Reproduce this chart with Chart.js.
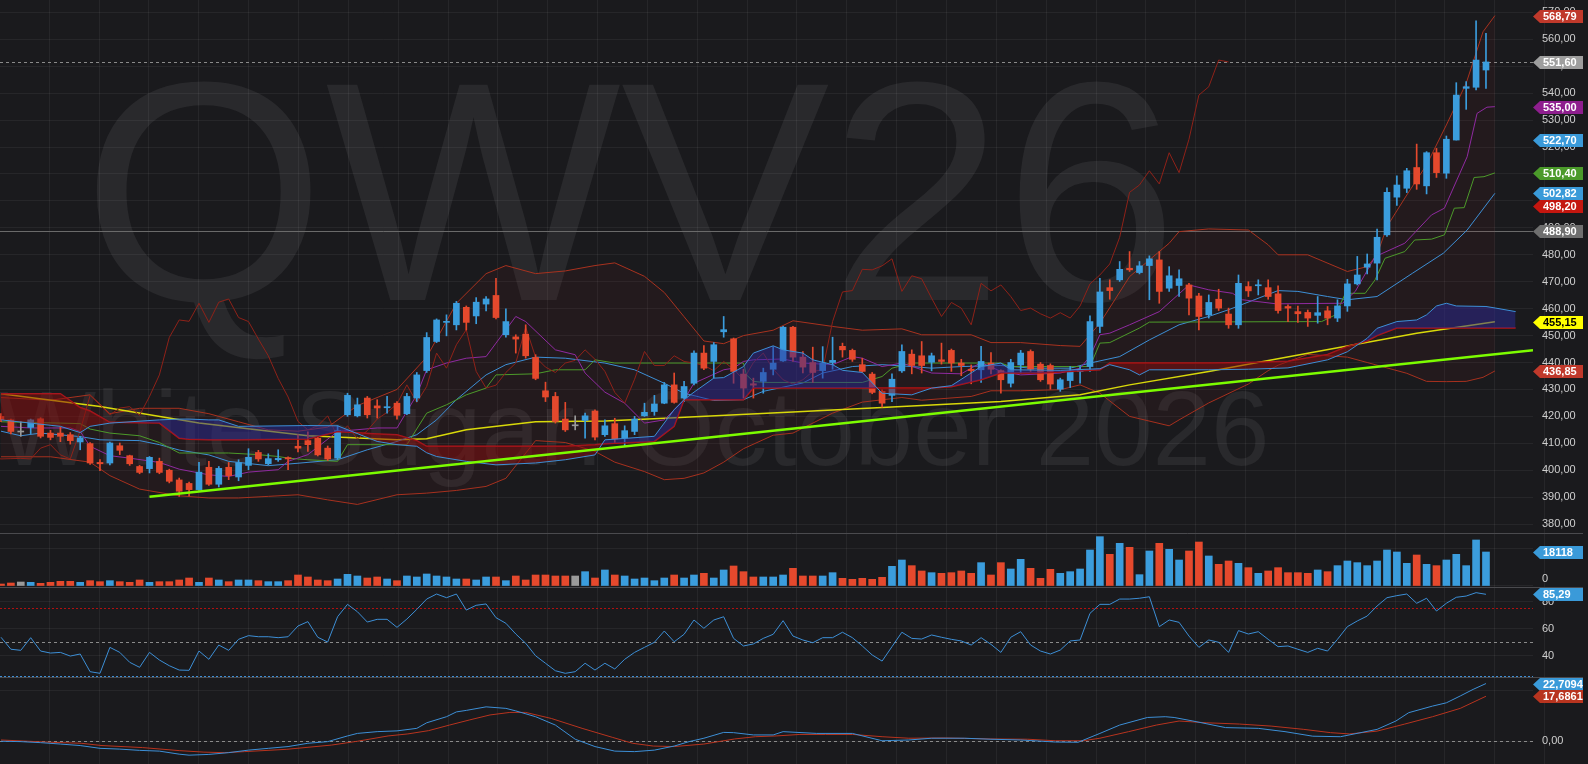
<!DOCTYPE html>
<html>
<head>
<meta charset="utf-8">
<title>QWV26 - White Sugar: October 2026</title>
<script src="https://cdn.jsdelivr.net/npm/chart.js@4.4.1/dist/chart.umd.min.js"></script>
<style>
  html, body { margin: 0; padding: 0; background: #1a1a1d; overflow: hidden; }
  #wrap { position: relative; width: 1588px; height: 764px; }
  canvas { position: absolute; left: 0; }
</style>
</head>
<body>
<div id="wrap">
  <canvas id="price" width="1588" height="533" style="top:0px"></canvas>
  <canvas id="volume" width="1588" height="54" style="top:533px"></canvas>
  <canvas id="rsi" width="1588" height="90" style="top:587px"></canvas>
  <canvas id="macd" width="1588" height="87" style="top:677px"></canvas>
</div>
<script>
// candles, one per session (index 0..150)
var opens = [
  420.0,418.7,414.2,415.9,419.1,413.8,413.8,413.2,410.5,409.9,
  402.9,402.7,409.1,405.4,401.4,400.6,403.3,400.0,396.4,395.1,
  392.8,401.1,394.8,401.1,397.5,401.8,406.6,402.4,403.9,404.7,
  408.9,411.0,411.9,408.2,404.5,420.6,420.2,426.8,423.9,423.2,
  424.9,421.0,426.8,437.0,447.8,454.9,454.0,460.5,457.3,461.7,
  464.9,450.3,449.5,450.5,441.9,429.5,427.4,419.0,416.5,418.5,
  422.0,413.2,417.3,411.9,414.4,420.2,421.8,424.9,431.7,426.8,
  432.3,443.5,440.4,451.4,448.8,435.7,432.1,433.0,437.5,440.6,
  453.1,442.0,440.0,437.0,440.0,446.0,444.5,439.2,435.7,429.3,
  427.8,436.9,443.1,442.5,440.1,441.0,444.5,439.8,437.5,437.3,
  439.8,437.0,432.3,439.1,444.1,439.4,438.9,430.1,433.3,436.7,
  438.5,453.4,467.8,470.7,475.0,473.4,476.0,478.1,467.6,468.6,
  468.8,464.7,457.7,463.5,458.0,454.0,468.2,468.5,467.8,465.5,
  460.8,458.9,458.6,457.5,459.2,456.5,461.0,469.2,475.4,476.9,
  487.4,501.4,504.7,512.4,505.6,517.9,510.3,522.6,541.8,542.2,
  548.6
];
var highs = [
  421.0,419.0,418.1,419.0,419.5,414.8,416.0,414.0,412.6,410.3,
  404.0,410.5,410.1,405.6,401.8,405.1,404.5,400.4,397.1,395.6,
  402.9,403.3,401.4,402.9,403.9,408.0,407.4,406.1,407.6,405.0,
  413.2,414.3,412.5,409.0,416.5,428.6,426.8,427.4,426.2,427.4,
  425.5,428.6,436.3,451.1,456.2,457.7,462.7,461.0,464.1,464.5,
  471.3,459.9,450.3,454.0,442.9,432.7,428.9,425.2,420.2,421.2,
  422.4,418.7,419.3,416.5,420.0,424.9,427.8,432.6,436.1,433.0,
  444.3,446.3,447.4,457.1,449.1,437.5,434.2,437.9,445.9,453.4,
  453.4,444.1,445.7,445.9,449.4,447.2,445.0,441.6,436.3,429.9,
  435.8,446.6,444.7,447.8,443.5,447.2,445.0,441.2,439.1,446.0,
  443.7,437.3,441.2,444.5,444.7,440.0,439.5,434.2,438.5,438.5,
  457.3,471.3,470.7,477.5,481.2,477.5,479.6,481.2,475.6,474.4,
  469.4,465.7,465.1,467.2,460.2,472.5,470.0,470.7,470.7,468.5,
  461.4,461.0,459.5,464.5,460.8,463.3,470.9,479.4,480.3,489.5,
  504.9,509.3,512.1,521.1,518.3,519.5,524.1,543.9,544.3,566.9,
  562.2
];
var lows = [
  418.0,413.5,412.6,413.6,412.0,411.3,410.6,409.7,407.6,402.2,
  399.8,402.0,405.8,401.8,398.7,399.0,398.7,395.3,390.3,390.5,
  392.5,394.4,393.8,396.5,396.1,400.2,403.3,402.0,403.3,400.2,
  406.8,407.0,405.3,403.6,404.0,420.0,419.8,419.4,419.4,421.2,
  419.0,420.6,425.5,436.3,447.4,449.9,452.1,452.1,454.4,459.2,
  456.2,449.4,443.5,441.6,433.6,425.5,417.5,414.4,415.0,411.9,
  411.3,412.6,410.3,408.8,413.2,420.0,420.4,424.7,424.9,425.5,
  431.7,437.3,434.2,449.4,432.3,426.8,426.8,428.6,435.4,440.4,
  440.4,436.1,432.6,434.2,437.5,442.0,440.4,436.3,428.4,423.4,
  425.5,436.3,435.8,436.1,436.9,439.4,436.7,435.1,432.1,432.6,
  435.8,428.6,430.9,436.1,436.7,433.0,430.1,429.3,430.7,432.3,
  436.7,451.1,463.5,470.1,473.8,472.9,463.3,462.0,466.4,464.5,
  457.7,452.1,456.5,459.3,452.7,452.7,464.5,465.1,463.5,458.3,
  455.2,454.9,453.4,454.6,454.0,455.2,459.0,468.8,472.9,470.7,
  486.8,498.3,503.1,504.3,502.6,508.7,508.4,522.6,534.0,541.2,
  541.8
];
var closes = [
  418.8,414.4,414.2,418.7,412.6,412.2,412.6,411.0,412.0,402.7,
  402.4,410.1,407.4,402.4,399.2,404.8,399.2,395.9,392.2,392.8,
  399.3,394.8,400.7,398.0,402.8,404.8,404.2,404.3,404.4,404.2,
  408.2,409.5,405.7,404.2,414.7,427.8,424.3,420.6,423.1,423.6,
  420.4,427.4,435.4,449.3,455.8,455.3,462.0,454.9,462.4,463.6,
  456.7,455.2,448.7,442.5,434.1,427.2,418.1,415.0,416.5,420.2,
  412.3,416.5,411.6,414.7,419.0,421.5,424.6,431.7,425.2,431.1,
  443.5,437.9,446.6,452.2,436.7,430.5,431.6,436.3,439.8,453.1,
  442.0,438.3,436.3,439.8,440.8,444.7,441.2,436.7,428.9,424.9,
  433.8,444.1,438.9,438.9,442.5,440.4,439.8,438.9,437.0,440.4,
  437.5,433.6,440.0,443.5,437.5,433.6,432.0,433.6,436.7,437.3,
  455.2,466.2,466.7,474.6,474.4,475.9,478.5,466.4,472.2,471.1,
  463.9,457.1,462.3,460.2,454.0,469.4,466.6,468.8,464.5,459.3,
  460.2,458.1,456.5,458.5,456.5,461.0,469.2,472.5,476.6,486.5,
  503.2,505.9,511.2,506.3,517.9,510.5,522.9,539.3,542.4,552.3,
  551.6
];
var volumes = [
  1066,1600,2130,1950,1420,1950,2490,2490,1950,2840,
  2310,2840,2310,1950,3200,1950,2310,2310,3200,4260,
  1950,4260,3200,2310,3200,3200,2840,2310,2310,2840,
  5860,4800,3200,2840,3730,6220,5330,4260,4800,3730,
  2840,5330,4800,6400,5330,4800,3730,3730,3200,4800,
  4800,2840,5330,3200,5860,5860,5330,5330,5330,7640,
  4260,8530,5860,5330,3730,4260,2840,4260,5860,4260,
  5860,6750,4260,8530,10660,7640,4800,4800,4800,5860,
  9420,5330,5330,5330,7100,4090,3550,4090,3550,4620,
  10480,13850,10840,8000,7100,6750,7100,8000,6750,12440,
  5860,12440,9060,14200,9420,4090,8880,6750,7640,9060,
  19180,26290,16880,22730,20600,6040,18650,22730,19540,13850,
  18650,23440,15990,11550,13320,12080,9770,6750,8000,9770,
  7100,7100,6750,8530,7640,10840,13320,12440,10840,13320,
  19180,18120,12080,16520,11550,10840,13850,16880,10840,24520,
  18118
];
var rsiValues = [
  53.7,44.9,44.1,53.4,43.6,42.1,42.6,39.9,41.4,28.4,
  27.2,46.3,42.6,35.3,31.6,42.6,37.0,32.8,29.6,29.4,
  43.6,37.5,48.0,44.1,52.2,54.9,54.1,54.1,53.4,54.1,
  62.0,65.2,53.7,50.2,68.8,77.9,72.5,64.9,66.9,66.9,
  61.0,67.1,74.2,81.8,85.5,82.8,85.5,73.7,77.2,78.2,
  68.1,64.0,56.1,49.3,40.1,34.6,29.1,27.2,28.4,34.6,
  29.6,34.6,30.4,37.5,42.6,46.3,50.0,58.3,50.4,55.9,
  66.4,60.3,66.4,68.8,52.9,47.3,48.8,52.9,55.9,65.9,
  54.6,51.7,49.7,53.4,53.4,57.4,53.4,47.3,40.7,36.2,
  46.8,57.4,52.9,52.4,55.4,53.7,52.2,51.0,48.0,53.4,
  48.5,42.6,53.7,57.8,48.0,43.6,41.4,44.3,51.0,51.7,
  71.3,77.9,77.9,81.8,81.8,82.4,83.5,61.5,66.4,64.7,
  54.6,46.3,51.7,50.0,42.6,58.6,56.1,57.8,52.2,46.8,
  47.3,44.9,42.6,45.6,43.6,52.2,61.5,65.7,69.3,76.7,
  82.8,84.3,85.5,78.7,82.4,73.0,78.7,83.1,84.0,86.5,
  85.29
];

// indicator lines: [session, value]
var macdLine = [[0,-0.1],[2,-0.25],[4,-0.65],[6,-1.2],[8,-1.8],[10,-2.9],[12,-3.2],[14,-3.7],[16,-4.0],[18,-5.2],[19,-5.6],[21,-5.3],[23,-4.6],[25,-3.6],[27,-2.9],[29,-2.2],[31,-0.9],[33,-0.25],[35,2.0],[36,3.0],[38,3.7],[40,4.0],[42,5.0],[43,7.2],[45,9.6],[46,11.5],[47,12.1],[49,13.5],[51,12.9],[52,11.9],[54,9.6],[56,6.3],[58,0.7],[60,-2.2],[62,-4.0],[64,-4.2],[66,-3.6],[68,-2.0],[69.5,-0.25],[71,1.1],[73,3.4],[74,3.3],[76,2.4],[78,2.4],[79,3.7],[82.4,3.0],[86,3.0],[89,0.1],[91.7,0.4],[94,1.1],[97.3,1.1],[100,0.7],[103,0.4],[106.5,-0.4],[108.8,-0.5],[111,3.0],[113,6.3],[115.8,9.3],[117.6,9.6],[118.5,9.3],[120.4,7.9],[123.7,5.3],[127,5.0],[129.7,3.7],[132.5,1.9],[135.3,1.7],[139,4.6],[140.9,7.9],[142.2,11.2],[144.6,13.8],[146,15.1],[147.4,17.8],[148.7,20.4],[150,22.71]];
var macdSignal = [[0,0.4],[5,-0.5],[8.1,-0.9],[10.2,-1.8],[14.3,-2.6],[18,-3.8],[20.5,-4.4],[22.6,-4.6],[24.6,-4.2],[28.8,-3.3],[33.4,-1.6],[36,-0.1],[39.1,2.0],[41.1,2.8],[43.2,4.1],[45.3,6.3],[47.3,8.3],[49.4,10.3],[51.4,11.3],[53,11.3],[55.6,8.9],[58.7,5.0],[61.8,1.4],[63.8,-0.9],[65.9,-2.0],[68,-2.2],[71,-1.2],[74.1,0.8],[76.2,1.7],[78.3,2.0],[80.7,2.6],[83.3,2.6],[86,2.6],[89,1.7],[91.7,1.1],[95.4,1.2],[100,0.8],[103.7,0.7],[106.5,0.1],[109.3,0.1],[111,1.1],[113.9,3.7],[116.7,6.3],[119,7.9],[121.8,7.2],[125.1,6.7],[128.3,5.9],[131.6,4.6],[134.3,3.3],[136.2,2.8],[139,3.9],[141.8,6.7],[144.6,9.6],[147.4,12.9],[150,17.69]];

var bbX = [0,5,9,11,14,18,21,24,27,30,33,36,40,43,46,49,51,54,57,60,62,65,67,69,71,73,75,78,80,84,87,91,93,98,100,103,107,109,111,114,118,119,122,126,128,129,132,136,138,139,140,142,144,146,148,149.7,150.9];
var bbUpper = [427,426,428,421,423,423,421,418,415,414.5,416,424,430,442,462,473,476,473,474,476,477,472,466,457,448,447,450,452,455.5,453.4,452,452.5,450.3,450.3,447.4,447.4,446.3,446,454.6,471.9,484.3,488.6,489.6,489.2,483.7,480,480,473.8,475.6,480,490.5,502.2,513.4,528.2,543.7,562.8,568.79];
var bbLower = [405,405,403,398,393,390.5,389.7,389.7,390.3,390.9,389,387.3,390.9,391.5,392.5,394,397,411,410.3,407,403,399.5,396.5,397,399,403,408,413,413.8,421.2,425.3,427,426,427.4,429.5,429.5,429.9,431.7,428.6,420,416.5,418.7,425,432,437,439,443,442,440,439,438,436,433,432.9,433,434.5,436.85];
var bbMiddle = [[0,414.5],[2,412.8],[4,413.8],[8,412.5],[10,411.3],[14,411],[16,409.5],[18,407.5],[21,405.7],[23,403.3],[27,401.7],[30,402.6],[34,403.9],[37,407.6],[40,410.7],[42,413.2],[44,418.7],[46,426.2],[49,435.4],[51,439.2],[54,442],[57,441.6],[61,439.8],[64,437.3],[67,432.3],[69,428.6],[72,425.9],[75,426.2],[77,429.3],[81,432.4],[83,436.1],[86,438.5],[89,439.2],[92,438.5],[94,437.9],[97,438.5],[101,438.9],[104,437.9],[108,437.9],[110,439.8],[113,442.2],[116,448.4],[119,454],[122,457.1],[124,459.6],[129,466.7],[131,466.4],[134,464.5],[136,463.3],[139,464.5],[142.6,473.2],[145.7,480.6],[148.1,489.2],[150.9,502.82]];
var fastLine = [[0,416.3],[3,415.7],[7,415.7],[8,414.4],[9,408.9],[11,405.4],[13,404.5],[16,402.9],[18,400.4],[21,398.3],[23,397.7],[25,399.3],[28,400.2],[29,403.3],[31,405.8],[34,414.4],[38,415.7],[40,415.7],[42,428],[43,437.3],[45,439.8],[47,441.6],[49,442.2],[50,447.2],[52,457.1],[53,455.2],[56,444.7],[58,442.9],[59,436.1],[61,429],[63,424.9],[65,417.5],[67,418.7],[69,426.2],[70,432.3],[73,437.3],[74,437.9],[75,440.4],[76,441],[79,441.3],[81,439.8],[84,439.2],[86,442.2],[87,441.6],[89,438.5],[91,439.8],[94,436.1],[97,435.8],[99,440],[101,436.7],[103,435.4],[107,436.1],[109,437.9],[110,442.2],[111,450.3],[112,450.9],[114,454],[117,458.9],[120,468.8],[122,467],[124.4,465.7],[125.4,463.3],[128.8,461.8],[135.5,462],[136.8,466.4],[138.8,479.3],[141.8,484.3],[144.5,494.8],[145.8,497.3],[148.1,516.4],[149.1,532.5],[150.1,534.8],[150.9,535]];
var stepLine = [[0,418],[6,417.5],[8,417.3],[9,415.3],[11,413.8],[14,412.8],[16,410.3],[18,406.4],[23,406.4],[26,405.8],[28,405.1],[29,404.5],[31,403.9],[34,403.3],[35,409.5],[41,409.5],[43,421.2],[45,424.3],[47,428],[49,430.5],[50,435.4],[54,435.8],[56,437.3],[59,437.3],[60,441],[62,439.8],[75,439.8],[75.3,435.4],[76,433],[77,432.6],[87,432.6],[89,434.8],[90,437.9],[92,439.8],[101,439.8],[102,438.5],[110,438.5],[111,447.2],[112,447.4],[115,452.8],[116,455],[133.4,455.2],[134.8,457.7],[135.8,465.7],[137.8,465.7],[138.8,470.7],[139.8,478.7],[141.8,481.2],[142.8,485.5],[144.5,485.8],[145.8,487.4],[146.8,497.3],[147.8,497.5],[148.8,508.7],[149.8,509],[150.9,510.4]];
var slowLine = [[0,428.4],[10,423.7],[20,417.5],[31,412.8],[40,411.3],[43,411.7],[47,415],[54,418],[61,418.3],[67,419.3],[81,421.8],[91,423.7],[101,425.5],[109,428],[114,431.7],[122,436.7],[132,443.4],[143,450.9],[150.9,455.15]];

var cloudX = [0,6,8,9,11,16,18,19,21,22,24,31,34,38,40,42,43,44,47,50,54,57,60,61,66,68,69,70,72,73,75,76,78,79,81,82,84,85,87,89,92,94,96,99,101,102,105,107,111,112,114,115,116,122,126,130,134,136,138,139,141,143,144,145,146,147,150,151,153];
var cloudA = [418.7,416.3,414,416.3,417.5,418.7,419,419,418.7,418.7,416.3,416.6,416.5,410.7,409.5,408.9,406.5,405.1,403.3,402,402.7,403.9,405.7,411.3,412.6,422.5,426.2,429,434.2,434.4,438.5,443.5,446.2,444.7,443.5,441,439.2,437.1,436.3,428.6,428,430.5,431.4,438.5,439.8,437.3,437.2,437.1,437.7,439.2,437.3,435.4,437.3,437.3,437.5,438,441,444,449,452.7,455.2,455.8,457.7,461,462,461,460.8,460.2,458.9];
var cloudB = [428.4,428.4,423.3,422,417.8,417.5,411.9,411.5,411.3,411.3,411.3,411.6,414.4,413.5,413.2,411,408.9,408.9,408.9,408.9,408.9,408.9,409.5,409.8,410.7,416.3,426.2,426.2,426.2,426.2,426.2,430.5,430.5,430.5,430.5,430.5,430.5,430.5,430.5,430.5,430.5,430.5,431,433.6,436.1,436.1,436.1,436.5,437.3,439.8,439.8,439.8,439.8,439.8,440,440.5,443,446,448,450,452.8,452.8,452.8,452.8,452.8,452.8,452.8,452.8,452.8];

var trendLine = [[15,390.2],[154.75,444.6]];
var chikouShift = 26;

var supportLevel = 488.9;
var lastPrice = 551.6;
var rsiLevels = [75, 50, 25];

var priceTicks = [380,390,400,410,420,430,440,450,460,470,480,490,500,510,520,530,540,550,560,570];
var volumeTicks = [0, 20000];
var rsiTicks = [40, 60, 80];
var macdTicks = [0, 20];

var priceTags = [568.79, 551.60, 535.00, 522.70, 510.40, 502.82, 498.20, 488.90, 455.15, 436.85];
var volumeTags = [18118];
var rsiTags = [85.29];
var macdTags = [22.7094, 17.6861];

// ---- styles ----
var FONT = '"Liberation Sans", Arial, sans-serif';
var UP = '#3b9ddd', DOWN = '#e5492d', FLAT = '#9a9a9a';
var GRID = 'rgba(255,255,255,0.055)';
var X_MIN = -0.1, X_MAX = 154.75;

function candleColor(i) {
  if (closes[i] > opens[i]) return UP;
  if (closes[i] < opens[i]) return DOWN;
  return FLAT;
}
var colors = closes.map(function (c, i) { return candleColor(i); });

function comma(d) {
  return function (v) { return Number(v).toFixed(d).replace('.', ','); };
}

function xScale() {
  return {
    type: 'linear', min: X_MIN, max: X_MAX, offset: false,
    ticks: { display: false },
    grid: { color: GRID, drawTicks: false, offset: false },
    border: { display: false },
    afterBuildTicks: function (s) {
      var t = [];
      for (var k = 1; k <= 31; k++) t.push({ value: 5.035 * k - 0.16 });
      s.ticks = t;
    },
    afterFit: function (s) { s.height = 0; s.paddingLeft = 0; s.paddingRight = 0; }
  };
}

function yScale(min, max, ticks, fmt, shift) {
  return {
    position: 'right', min: min, max: max, beginAtZero: false,
    grid: { color: GRID, drawTicks: false },
    border: { display: false },
    ticks: { color: '#cfcfcf', font: { size: 11, family: FONT }, padding: 9, labelOffset: shift || 0, callback: fmt },
    afterBuildTicks: function (s) { s.ticks = ticks.map(function (v) { return { value: v }; }); },
    afterFit: function (s) { s.width = 55; s.paddingTop = 0; s.paddingBottom = 0; }
  };
}

function baseOptions(scales) {
  return {
    responsive: false,
    animation: false,
    events: [],
    layout: { padding: 0 },
    plugins: { legend: { display: false }, tooltip: { enabled: false } },
    scales: scales
  };
}

// arrow shaped value tags on the right axis
function tagPlugin(values, bgs, fgs, fmt) {
  return {
    id: 'tags',
    afterDraw: function (chart) {
      var ctx = chart.ctx, sc = chart.scales.y;
      var x0 = chart.chartArea.right, x1 = chart.width - 5, h = 13;
      ctx.save();
      values.forEach(function (v, i) {
        var y = Math.round(sc.getPixelForValue(v)) + 0.5;
        ctx.beginPath();
        ctx.moveTo(x0, y);
        ctx.lineTo(x0 + 7, y - h / 2);
        ctx.lineTo(x1, y - h / 2);
        ctx.lineTo(x1, y + h / 2);
        ctx.lineTo(x0 + 7, y + h / 2);
        ctx.closePath();
        ctx.fillStyle = bgs[i];
        ctx.fill();
        ctx.fillStyle = fgs[i];
        ctx.font = 'bold 11px ' + FONT;
        ctx.textBaseline = 'middle';
        ctx.textAlign = 'left';
        ctx.fillText(fmt(v), x0 + 10, y + 0.5);
      });
      ctx.restore();
    }
  };
}

// horizontal level lines
function levelPlugin(levels, styles) {
  return {
    id: 'levels',
    beforeDatasetsDraw: function (chart) {
      var ctx = chart.ctx, a = chart.chartArea, sc = chart.scales.y;
      ctx.save();
      levels.forEach(function (v, i) {
        var y = Math.round(sc.getPixelForValue(v)) + 0.5;
        ctx.strokeStyle = styles[i].color;
        ctx.lineWidth = 1;
        ctx.setLineDash(styles[i].dash);
        ctx.beginPath();
        ctx.moveTo(a.left, y);
        ctx.lineTo(a.right, y);
        ctx.stroke();
      });
      ctx.restore();
    }
  };
}

var separator = {
  id: 'separator',
  afterDraw: function (chart) {
    var ctx = chart.ctx;
    ctx.save();
    ctx.strokeStyle = '#4a4a4e';
    ctx.lineWidth = 1;
    ctx.beginPath();
    ctx.moveTo(0, 0.5);
    ctx.lineTo(chart.width - 5, 0.5);
    ctx.stroke();
    ctx.restore();
  }
};

var watermark = {
  id: 'watermark',
  beforeDraw: function (chart) {
    var ctx = chart.ctx;
    ctx.save();
    ctx.fillStyle = 'rgba(255,255,255,0.065)';
    ctx.textBaseline = 'alphabetic';
    ctx.textAlign = 'left';
    ctx.font = '313px ' + FONT;
    ctx.fillText('QWV26', 82, 300);
    ctx.font = '105px ' + FONT;
    ctx.fillText('White Sugar: October 2026', -3, 465);
    ctx.restore();
  }
};

function line(data, color, width, order, extra) {
  var ds = { type: 'line', data: data, borderColor: color, borderWidth: width, pointRadius: 0, tension: 0, fill: false, order: order };
  for (var k in extra) ds[k] = extra[k];
  return ds;
}
function zip(xs, ys) { return xs.map(function (x, i) { return [x, ys[i]]; }); }

// ---- price panel ----
var bodies = opens.map(function (o, i) { return { x: i, y: [o, closes[i]] }; });
var wicks = lows.map(function (l, i) { return { x: i, y: [l, highs[i]] }; });
var chikou = closes.map(function (c, i) { return [i - chikouShift, c]; });

new Chart(document.getElementById('price'), {
  type: 'bar',
  data: {
    datasets: [
      line(trendLine, '#7cfc00', 2.5, 0),
      line(zip(cloudX, cloudA), '#3d8fd6', 1, 1, { fill: { target: '+1', above: 'rgba(42,42,150,0.5)', below: 'rgba(135,14,14,0.5)' } }),
      line(zip(cloudX, cloudB), '#b51515', 1.5, 1),
      { type: 'bar', data: wicks, backgroundColor: colors, borderWidth: 0, barThickness: 1, grouped: false, order: 2 },
      { type: 'bar', data: bodies, backgroundColor: colors, borderWidth: 0, barThickness: 6, minBarLength: 1, grouped: false, order: 2 },
      line(chikou, '#8f2219', 1, 3),
      line(fastLine, '#8f2aa0', 1, 3),
      line(stepLine, '#4c9a2a', 1, 3),
      line(bbMiddle, '#3d8fd6', 1, 3),
      line(slowLine, '#d9d90a', 1.5, 3),
      line(zip(bbX, bbUpper), '#a8321f', 1, 4, { fill: { target: '+1', above: 'rgba(150,40,40,0.08)', below: 'rgba(150,40,40,0.08)' } }),
      line(zip(bbX, bbLower), '#a8321f', 1, 4)
    ]
  },
  options: baseOptions({ x: xScale(), y: yScale(376.7, 574.6, priceTicks, comma(2)) }),
  plugins: [
    watermark,
    levelPlugin([supportLevel, lastPrice], [{ color: '#6a6a6a', dash: [] }, { color: '#8a8a8a', dash: [3, 3] }]),
    tagPlugin(priceTags,
      ['#c0392b', '#9e9e9e', '#8e1e8e', '#3a9ad9', '#4b9a2a', '#3a9ad9', '#c4160f', '#6f6f6f', '#ffff00', '#c0392b'],
      ['#fff', '#fff', '#fff', '#fff', '#fff', '#fff', '#fff', '#fff', '#000', '#fff'],
      comma(2))
  ]
});

// ---- volume panel ----
new Chart(document.getElementById('volume'), {
  type: 'bar',
  data: {
    datasets: [{
      data: volumes.map(function (v, i) { return { x: i, y: v }; }),
      backgroundColor: colors, borderWidth: 0, barThickness: 7, grouped: false
    }]
  },
  options: baseOptions({ x: xScale(), y: yScale(-533, 28240, volumeTicks, function (v) { return v === 0 ? '0' : ''; }, -7) }),
  plugins: [separator, tagPlugin(volumeTags, ['#3a9ad9'], ['#fff'], function (v) { return String(v); })]
});

// ---- RSI panel ----
new Chart(document.getElementById('rsi'), {
  type: 'line',
  data: {
    datasets: [line(rsiValues.map(function (v, i) { return [i, v]; }), '#3d8fd6', 1, 0)]
  },
  options: baseOptions({ x: xScale(), y: yScale(24.5, 90.66, rsiTicks, function (v) { return String(v); }) }),
  plugins: [
    separator,
    levelPlugin(rsiLevels, [{ color: '#b01010', dash: [2, 2] }, { color: '#8a8a8a', dash: [3, 3] }, { color: '#3d8fd6', dash: [2, 2] }]),
    tagPlugin(rsiTags, ['#3a9ad9'], ['#fff'], comma(2))
  ]
});

// ---- MACD panel ----
new Chart(document.getElementById('macd'), {
  type: 'line',
  data: {
    datasets: [
      line(macdLine, '#3d8fd6', 1, 0),
      line(macdSignal, '#b8341f', 1, 1)
    ]
  },
  options: baseOptions({ x: xScale(), y: yScale(-9.09, 25.3, macdTicks, function (v) { return v === 0 ? '0,00' : ''; }) }),
  plugins: [
    separator,
    levelPlugin([0], [{ color: '#8a8a8a', dash: [3, 3] }]),
    tagPlugin(macdTags, ['#3a9ad9', '#b8341f'], ['#fff', '#fff'], comma(4))
  ]
});
</script>
</body>
</html>
